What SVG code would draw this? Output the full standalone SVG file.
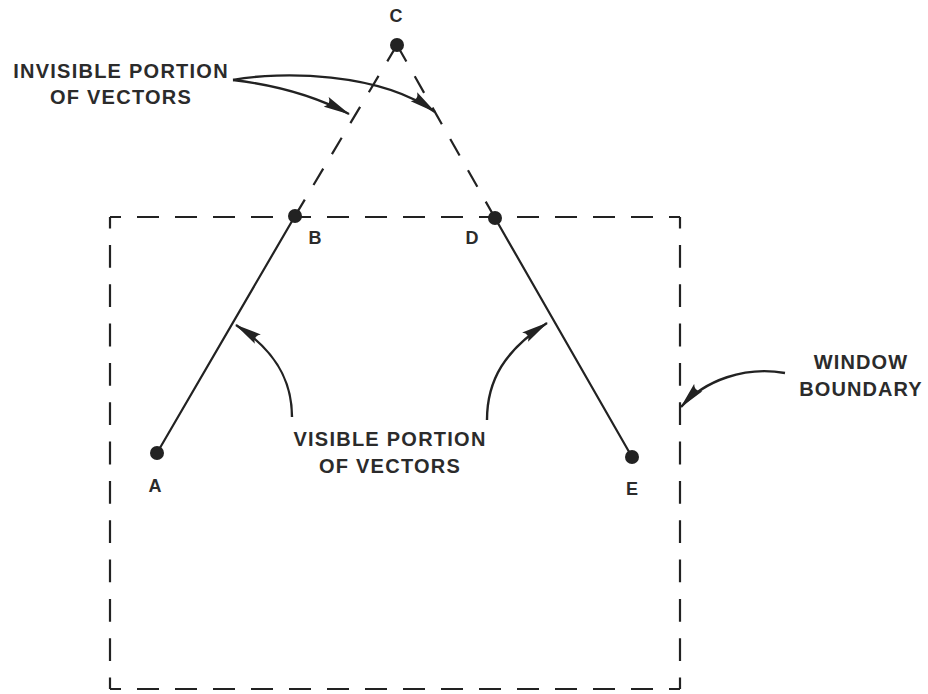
<svg xmlns="http://www.w3.org/2000/svg" width="928" height="694" viewBox="0 0 928 694">
  <style>
    .bg { fill: #ffffff; }
    .label { font-family: "Liberation Sans", Arial, sans-serif; font-weight: bold; font-size: 20px; letter-spacing: 1.25px; fill: #2b2b2b; text-anchor: middle; }
    .pt { font-family: "Liberation Sans", Arial, sans-serif; font-weight: bold; font-size: 18px; fill: #2b2b2b; text-anchor: middle; }
    .vec { stroke: #222; stroke-width: 2.2; fill: none; stroke-linecap: round; }
    .inv { stroke: #222; stroke-width: 2.2; fill: none; stroke-dasharray: 19 17; }
    .win { stroke: #222; stroke-width: 2.2; fill: none; }
    .dot { fill: #222; }
    .arrow { stroke: #222; stroke-width: 2.4; fill: none; marker-end: url(#head); }
  </style>
  <defs>
    <marker id="head" markerUnits="userSpaceOnUse" viewBox="0 0 27 12" markerWidth="27" markerHeight="12" refX="26" refY="6" orient="auto">
      <path d="M27,6 L0,0.5 Q6,6 0,11.5 Z" fill="#222"/>
    </marker>
  </defs>
  <rect class="bg" x="0" y="0" width="928" height="694"/>

  <g id="window-boundary">
    <line class="win" x1="110" y1="217" x2="680" y2="217" stroke-dasharray="22 16" stroke-dashoffset="11"/>
    <line class="win" x1="110" y1="689" x2="680" y2="689" stroke-dasharray="22 16" stroke-dashoffset="11"/>
    <line class="win" x1="110" y1="217" x2="110" y2="689" stroke-dasharray="22.8 16.53" stroke-dashoffset="11.4"/>
    <line class="win" x1="680" y1="217" x2="680" y2="689" stroke-dasharray="22.8 16.53" stroke-dashoffset="11.4"/>
  </g>

  <g id="connectors">
    <line class="vec" x1="157" y1="453" x2="295" y2="216"/>
    <line class="inv" x1="397" y1="45" x2="295" y2="216"/>
    <line class="inv" x1="397" y1="45" x2="495" y2="218"/>
    <line class="vec" x1="495" y1="218" x2="632" y2="457"/>
    <path class="arrow" d="M233,80 Q300,88 349,114"/>
    <path class="arrow" d="M233,80 C280,71 380,72 435,112"/>
    <path class="arrow" d="M292,417 C292,380 275,350 236,325"/>
    <path class="arrow" d="M487,420 C487,380 505,350 547,323"/>
    <path class="arrow" d="M785,373 C745,366 705,380 681,407"/>
  </g>

  <g id="node-A">
    <circle class="dot" cx="157" cy="453" r="7"/>
    <text class="pt" x="155" y="492">A</text>
  </g>
  <g id="node-B">
    <circle class="dot" cx="295" cy="216" r="7"/>
    <text class="pt" x="315" y="244">B</text>
  </g>
  <g id="node-C">
    <circle class="dot" cx="397" cy="45" r="7"/>
    <text class="pt" x="396" y="22">C</text>
  </g>
  <g id="node-D">
    <circle class="dot" cx="495" cy="218" r="7"/>
    <text class="pt" x="472" y="244">D</text>
  </g>
  <g id="node-E">
    <circle class="dot" cx="632" cy="457" r="7"/>
    <text class="pt" x="632" y="495">E</text>
  </g>

  <g id="label-invisible">
    <text class="label" x="121" y="78">INVISIBLE PORTION</text>
    <text class="label" x="121" y="104">OF VECTORS</text>
  </g>
  <g id="label-visible">
    <text class="label" x="390" y="446">VISIBLE PORTION</text>
    <text class="label" x="390" y="473">OF VECTORS</text>
  </g>
  <g id="label-window">
    <text class="label" x="861" y="369" style="letter-spacing:1.1px">WINDOW</text>
    <text class="label" x="861" y="396" style="letter-spacing:1.1px">BOUNDARY</text>
  </g>
</svg>
